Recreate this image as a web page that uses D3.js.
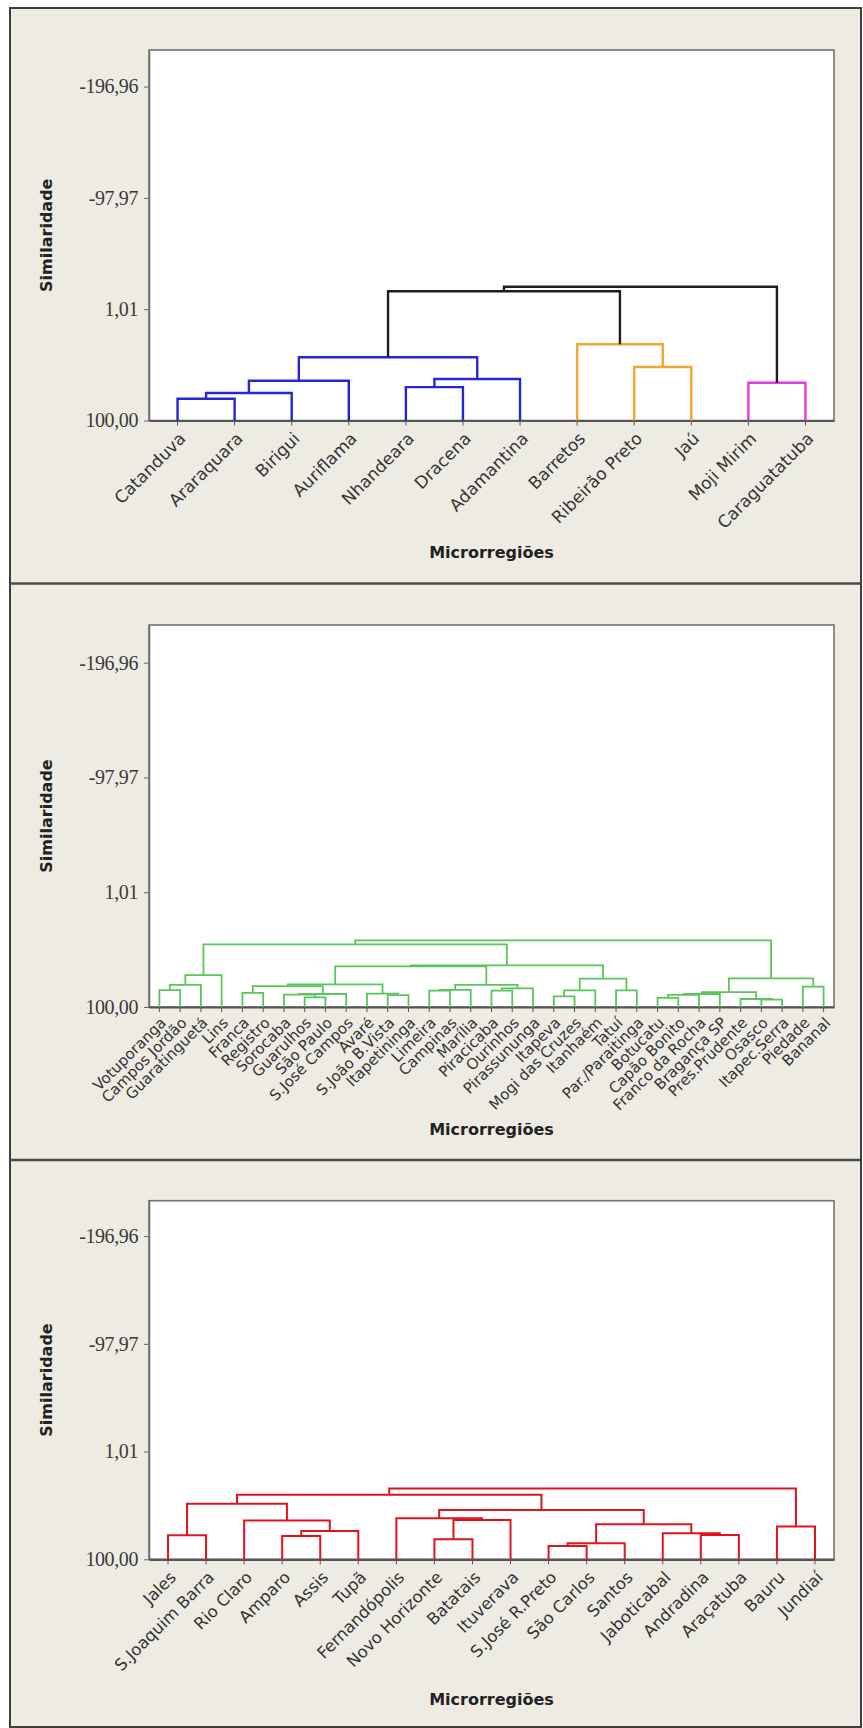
<!DOCTYPE html>
<html>
<head>
<meta charset="utf-8">
<script src="https://cdn.jsdelivr.net/npm/d3@7"></script>
<style>
  body { margin: 0; background: #ffffff; }
  svg { display: block; }
</style>
</head>
<body>
<script>
// ---------- data ----------
// Leaf order of each dendrogram and its merge steps: [child, child, similarity].
// A child is a leaf name or "#k", the k-th merge of the same list.

const leavesA = ["Catanduva", "Araraquara", "Birigui", "Auriflama", "Nhandeara", "Dracena",
  "Adamantina", "Barretos", "Ribeirão Preto", "Jaú", "Moji Mirim", "Caraguatatuba"];
const mergesA = [
  ["Catanduva", "Araraquara", 80.7],   // #0
  ["#0", "Birigui", 75.6],             // #1
  ["#1", "Auriflama", 64.6],           // #2
  ["Nhandeara", "Dracena", 70.3],      // #3
  ["#3", "Adamantina", 63.1],          // #4
  ["#2", "#4", 43.8],                  // #5
  ["Ribeirão Preto", "Jaú", 52.4],     // #6
  ["Barretos", "#6", 32.2],            // #7
  ["Moji Mirim", "Caraguatatuba", 66.4], // #8
  ["#5", "#7", -15.0],                 // #9
  ["#9", "#8", -18.9]                  // #10
];
const clusterColorsA = ["#2626d6", "#f4a52c", "#e03ee0"];

const leavesB = ["Votuporanga", "Campos Jordão", "Guaratinguetá", "Lins", "Franca", "Registro",
  "Sorocaba", "Guarulhos", "São Paulo", "S.José Campos", "Avaré", "S.João B.Vista", "Itapetininga",
  "Limeira", "Campinas", "Marília", "Piracicaba", "Ourinhos", "Pirassununga", "Itapeva",
  "Mogi das Cruzes", "Itanhaém", "Tatuí", "Par./Paraitinga", "Botucatu", "Capão Bonito",
  "Franco da Rocha", "Bragança SP", "Pres.Prudente", "Osasco", "Itapec.Serra", "Piedade", "Bananal"];
const mergesB = [
  ["Votuporanga", "Campos Jordão", 85.5], // #0
  ["#0", "Guaratinguetá", 81.0],          // #1
  ["#1", "Lins", 72.5],                   // #2
  ["Franca", "Registro", 87.9],           // #3
  ["Guarulhos", "São Paulo", 91.7],       // #4
  ["Sorocaba", "#4", 89.4],               // #5
  ["#5", "S.José Campos", 88.8],          // #6
  ["#3", "#6", 82.0],                     // #7
  ["S.João B.Vista", "Itapetininga", 89.8], // #8
  ["Avaré", "#8", 88.5],                  // #9
  ["#7", "#9", 80.4],                     // #10
  ["Limeira", "Campinas", 85.8],          // #11
  ["#11", "Marília", 85.2],               // #12
  ["Piracicaba", "Ourinhos", 85.8],       // #13
  ["#13", "Pirassununga", 83.9],          // #14
  ["#12", "#14", 81.0],                   // #15
  ["#10", "#15", 64.9],                   // #16
  ["Itapeva", "Mogi das Cruzes", 90.8],   // #17
  ["#17", "Itanhaém", 85.6],              // #18
  ["Tatuí", "Par./Paraitinga", 85.6],     // #19
  ["#18", "#19", 75.6],                   // #20
  ["#16", "#20", 64.1],                   // #21
  ["#2", "#21", 46.0],                    // #22
  ["Botucatu", "Capão Bonito", 92.2],     // #23
  ["#23", "Franco da Rocha", 89.6],       // #24
  ["#24", "Bragança SP", 88.8],           // #25
  ["Osasco", "Itapec.Serra", 93.7],       // #26
  ["Pres.Prudente", "#26", 93.1],         // #27
  ["#25", "#27", 87.1],                   // #28
  ["Piedade", "Bananal", 82.5],           // #29
  ["#28", "#29", 75.3],                   // #30
  ["#22", "#30", 42.5]                    // #31
];
const clusterColorsB = ["#5ac65a"];

const leavesC = ["Jales", "S.Joaquim Barra", "Rio Claro", "Amparo", "Assis", "Tupã",
  "Fernandópolis", "Novo Horizonte", "Batatais", "Ituverava", "S.José R.Preto", "São Carlos",
  "Santos", "Jaboticabal", "Andradina", "Araçatuba", "Bauru", "Jundiaí"];
const mergesC = [
  ["Jales", "S.Joaquim Barra", 77.9],     // #0
  ["Amparo", "Assis", 78.5],              // #1
  ["#1", "Tupã", 73.9],                   // #2
  ["Rio Claro", "#2", 64.4],              // #3
  ["#0", "#3", 49.0],                     // #4
  ["Novo Horizonte", "Batatais", 81.6],   // #5
  ["#5", "Ituverava", 63.8],              // #6
  ["Fernandópolis", "#6", 62.2],          // #7
  ["S.José R.Preto", "São Carlos", 87.7], // #8
  ["#8", "Santos", 85.3],                 // #9
  ["Andradina", "Araçatuba", 77.6],       // #10
  ["Jaboticabal", "#10", 76.1],           // #11
  ["#9", "#11", 67.8],                    // #12
  ["#7", "#12", 54.6],                    // #13
  ["#4", "#13", 40.8],                    // #14
  ["Bauru", "Jundiaí", 69.9],             // #15
  ["#14", "#15", 34.9]                    // #16
];
const clusterColorsC = ["#e0141e"];

const tickValues = [100.00, 1.01, -97.97, -196.96];
const yAxisTitle = "Similaridade";
const xAxisTitle = "Microrregiões";

// ---------- layout ----------
const W = 863, H = 1728;
const plotLeft = 149, plotRight = 834;
const simTop = -229.5;   // similarity at the upper edge of every plot box

const panels = [
  { top: 8,     plotTop: 50,     plotBottom: 420.5,  leaves: leavesA, merges: mergesA,
    colors: clusterColorsA, cut: 0, lineW: 2.4, labelSize: 17, labelShift: [5, 15], titleY: 558 },
  { top: 583.5, plotTop: 625,    plotBottom: 1007,   leaves: leavesB, merges: mergesB,
    colors: clusterColorsB, cut: -Infinity, lineW: 1.8, labelSize: 15, labelShift: [4, 13], titleY: 1135 },
  { top: 1160,  plotTop: 1200.7, plotBottom: 1559.3, leaves: leavesC, merges: mergesC,
    colors: clusterColorsC, cut: -Infinity, lineW: 2, labelSize: 16.5, labelShift: [5, 15], titleY: 1705 }
];

const locale = d3.formatLocale({ decimal: ",", thousands: ".", grouping: [3], currency: ["", ""], minus: "-" });
const fmt = locale.format(".2f");

const svg = d3.select("body").append("svg")
  .attr("width", W).attr("height", H);

svg.append("rect").attr("width", W).attr("height", H).attr("fill", "#ffffff");

// outer frame and panel separators
svg.append("rect")
  .attr("x", 10).attr("y", 8).attr("width", 851).attr("height", 1719)
  .attr("fill", "#eeebe3").attr("stroke", "#3e3e3e").attr("stroke-width", 2);
panels.slice(1).forEach(p => {
  svg.append("line")
    .attr("x1", 10).attr("x2", 861).attr("y1", p.top).attr("y2", p.top)
    .attr("stroke", "#4a4a4a").attr("stroke-width", 2.5);
});

function buildTree(p, x, y) {
  const half = x.bandwidth() / 2;
  const nodes = p.merges.map(() => ({}));
  const ref = key => (key.startsWith("#") ? nodes[+key.slice(1)] : { x: x(key) + half, sim: 100, leaf: true });
  p.merges.forEach((m, i) => {
    const a = ref(m[0]), b = ref(m[1]);
    Object.assign(nodes[i], { a, b, sim: m[2], x: (a.x + b.x) / 2, parent: null });
    if (!a.leaf) a.parent = nodes[i];
    if (!b.leaf) b.parent = nodes[i];
  });
  // clusters: highest merges that still lie at or above the cut similarity
  const roots = nodes.filter(n => n.sim >= p.cut && (!n.parent || n.parent.sim < p.cut))
    .sort((u, v) => u.x - v.x);
  roots.forEach((r, k) => { r.color = p.colors[k % p.colors.length]; });
  for (let i = nodes.length - 1; i >= 0; i--) {
    const n = nodes[i];
    if (n.color) continue;
    n.color = n.sim < p.cut ? "#1e1e1e" : n.parent.color;
  }
  return nodes;
}

panels.forEach(p => {
  const g = svg.append("g");
  const y = d3.scaleLinear().domain([100, simTop]).range([p.plotBottom, p.plotTop]);
  const x = d3.scaleBand().domain(p.leaves).range([plotLeft, plotRight]).padding(0);

  // plot box
  g.append("rect")
    .attr("x", plotLeft).attr("y", p.plotTop)
    .attr("width", plotRight - plotLeft).attr("height", p.plotBottom - p.plotTop)
    .attr("fill", "#ffffff").attr("stroke", "#727272").attr("stroke-width", 1.6);

  // similarity axis
  const ay = g.append("g").attr("transform", `translate(${plotLeft},0)`)
    .call(d3.axisLeft(y).tickValues(tickValues).tickFormat(fmt).tickSize(5).tickSizeOuter(0).tickPadding(6));
  ay.select(".domain").attr("stroke", "#727272").attr("stroke-width", 1.6);
  ay.selectAll(".tick line").attr("stroke", "#666");
  ay.selectAll(".tick text")
    .attr("font-family", "'Liberation Serif', serif").attr("font-size", 20)
    .attr("fill", "#3a3a3a").attr("letter-spacing", -0.4);

  // category axis
  const ax = g.append("g").attr("transform", `translate(0,${p.plotBottom})`)
    .call(d3.axisBottom(x).tickSize(5).tickSizeOuter(0).tickPadding(0));
  ax.select(".domain").attr("stroke", "#555").attr("stroke-width", 2.2);
  ax.selectAll(".tick line").attr("stroke", "#555");
  ax.selectAll(".tick text")
    .attr("font-family", "'DejaVu Sans', sans-serif").attr("font-size", p.labelSize)
    .attr("fill", "#333").attr("text-anchor", "end")
    .attr("x", 0).attr("y", 0).attr("dy", "0.35em")
    .attr("transform", `translate(${p.labelShift[0]},${p.labelShift[1]}) rotate(-45)`);

  // dendrogram links
  const nodes = buildTree(p, x, y);
  g.append("g").selectAll("path").data(nodes).join("path")
    .attr("d", n => `M${n.a.x},${y(n.a.sim)}V${y(n.sim)}H${n.b.x}V${y(n.b.sim)}`)
    .attr("fill", "none").attr("stroke", n => n.color)
    .attr("stroke-width", p.lineW).attr("stroke-linejoin", "miter");

  // axis titles
  g.append("text")
    .attr("transform", `translate(52,${(p.plotTop + p.plotBottom) / 2}) rotate(-90)`)
    .attr("text-anchor", "middle")
    .attr("font-family", "'DejaVu Sans', sans-serif").attr("font-weight", "bold")
    .attr("font-size", 16).attr("fill", "#222")
    .text(yAxisTitle);
  g.append("text")
    .attr("x", (plotLeft + plotRight) / 2).attr("y", p.titleY)
    .attr("text-anchor", "middle")
    .attr("font-family", "'DejaVu Sans', sans-serif").attr("font-weight", "bold")
    .attr("font-size", 16).attr("fill", "#222")
    .text(xAxisTitle);
});
</script>
</body>
</html>
